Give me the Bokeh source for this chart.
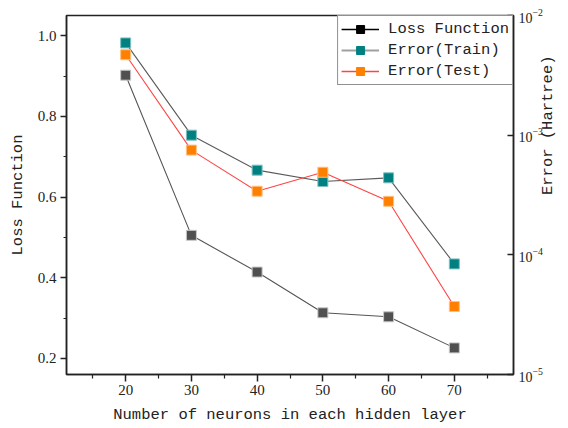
import math
from bokeh.plotting import figure
from bokeh.models import (LinearAxis, LogAxis, Range1d, LogScale, FixedTicker,
                          LogTickFormatter, PrintfTickFormatter, Legend, LegendItem,
                          ColumnDataSource)
from bokeh.embed import file_html
from bokeh.resources import INLINE

# ---- data ----
neurons = [20, 30, 40, 50, 60, 70]
loss = [0.902, 0.505, 0.414, 0.313, 0.303, 0.226]
err_train = [5.9e-3, 1.0e-3, 5.1e-4, 4.1e-4, 4.4e-4, 8.4e-5]
err_test = [4.7e-3, 7.5e-4, 3.4e-4, 4.9e-4, 2.8e-4, 3.7e-5]
x_ticks = [20, 30, 40, 50, 60, 70]
x_minor = [15, 25, 35, 45, 55, 65, 75]
y_ticks = [0.2, 0.4, 0.6, 0.8, 1.0]
y_minor = [0.3, 0.5, 0.7, 0.9]
err_ticks = [1e-5, 1e-4, 1e-3, 1e-2]
x_lo, x_hi = 11, 79
err_lo, err_hi = 1e-5, 1e-2

MONO = "Liberation Mono"
SERIF = "Liberation Serif"

p = figure(width=568, height=428, x_range=Range1d(x_lo, x_hi), y_range=Range1d(0.16, 1.05),
           output_backend="svg", toolbar_location=None,
           min_border_left=66, min_border_right=55, min_border_top=15, min_border_bottom=54,
           x_axis_location=None, y_axis_location=None)
p.grid.visible = False
p.outline_line_color = "#222222"
p.outline_line_width = 1.5
p.background_fill_color = "white"
p.border_fill_color = "white"

p.extra_y_ranges = {"err": Range1d(err_lo, err_hi), "lab": Range1d(0, 1)}
p.extra_y_scales = {"err": LogScale()}

# axes
xa = LinearAxis(ticker=FixedTicker(ticks=x_ticks, minor_ticks=x_minor),
                axis_label="Number of neurons in each hidden layer")
ya = LinearAxis(ticker=FixedTicker(ticks=y_ticks, minor_ticks=y_minor),
                formatter=PrintfTickFormatter(format="%.1f"),
                axis_label="Loss Function")
ra = LogAxis(y_range_name="err", ticker=FixedTicker(ticks=err_ticks),
             formatter=LogTickFormatter())

for ax in (xa, ya, ra):
    ax.axis_line_width = 1.5
    ax.axis_line_color = "#222222"
    ax.major_tick_line_color = "#222222"
    ax.minor_tick_line_color = "#222222"
    ax.major_tick_line_width = 1.5
    ax.minor_tick_line_width = 1.2
    ax.major_label_text_font = SERIF
    ax.major_label_text_font_size = "15px"
    ax.major_label_text_color = "#222222"
    ax.axis_label_text_font = MONO
    ax.axis_label_text_font_size = "15.5px"
    ax.axis_label_text_font_style = "normal"
    ax.axis_label_text_color = "#222222"

xa.major_tick_out = 7
xa.major_tick_in = 0
xa.minor_tick_out = 4
xa.minor_tick_in = 0
xa.major_label_standoff = 3
xa.axis_label_standoff = 8

ya.major_tick_out = 6
ya.major_tick_in = 0
ya.minor_tick_out = 3
ya.minor_tick_in = 0
ya.major_label_standoff = 4
ya.axis_label_standoff = 8

ra.major_tick_out = 0
ra.major_tick_in = 6
ra.minor_tick_out = 0
ra.minor_tick_in = 0
ra.major_label_standoff = 5
ra.major_label_text_font_size = "14px"

# title-only axis for the right-hand side (reads bottom-to-top)
ta = LinearAxis(y_range_name="lab", ticker=FixedTicker(ticks=[]), bounds=(0.0, 0.61),
                axis_label="Error (Hartree)")
ta.axis_line_color = None
ta.major_tick_line_color = None
ta.minor_tick_line_color = None
ta.major_tick_in = 0
ta.major_tick_out = 0
ta.minor_tick_in = 0
ta.minor_tick_out = 0
ta.major_label_text_font_size = "0px"
ta.major_label_standoff = 0
ta.axis_label_standoff = 2
ta.axis_label_text_font = MONO
ta.axis_label_text_font_size = "15.5px"
ta.axis_label_text_font_style = "normal"
ta.axis_label_text_color = "#222222"
ta.axis_label_orientation = math.pi / 2

p.add_layout(xa, "below")
p.add_layout(ya, "left")
p.add_layout(ra, "right")
p.add_layout(ta, "right")

# data renderers
src = ColumnDataSource(dict(x=neurons, loss=loss, tr=err_train, te=err_test))

p.line("x", "loss", source=src, line_color="#555555", line_width=1.1)
p.line("x", "tr", source=src, y_range_name="err", line_color="#5a5a5a", line_width=1.1)
p.line("x", "te", source=src, y_range_name="err", line_color="#ff4444", line_width=1.1)

p.scatter("x", "loss", source=src, marker="square", size=10, fill_color="#505050",
          line_color="#c8c8c8", line_width=1)
p.scatter("x", "tr", source=src, y_range_name="err", marker="square", size=10,
          fill_color="#008080", line_color="#7fc0c0", line_width=1)
p.scatter("x", "te", source=src, y_range_name="err", marker="square", size=10,
          fill_color="#ff8000", line_color="#ffc080", line_width=1)

# legend proxies
nan = float("nan")
proxy = ColumnDataSource(dict(x=[nan], y=[nan]))
l1 = p.line("x", "y", source=proxy, line_color="black", line_width=1.3)
s1 = p.scatter("x", "y", source=proxy, marker="square", size=9, fill_color="black", line_color="black")
l2 = p.line("x", "y", source=proxy, line_color="#a0a0a0", line_width=2)
s2 = p.scatter("x", "y", source=proxy, marker="square", size=9, fill_color="#008080", line_color="#008080")
l3 = p.line("x", "y", source=proxy, line_color="#ff4444", line_width=1.3)
s3 = p.scatter("x", "y", source=proxy, marker="square", size=9, fill_color="#ff8000", line_color="#ff8000")

legend = Legend(items=[
    LegendItem(label="Loss Function", renderers=[l1, s1]),
    LegendItem(label="Error(Train)", renderers=[l2, s2]),
    LegendItem(label="Error(Test)", renderers=[l3, s3]),
], location="top_right")
legend.margin = 0
legend.padding = 3
legend.spacing = 1
legend.glyph_width = 38
legend.glyph_height = 20
legend.label_height = 20
legend.label_standoff = 9
legend.label_text_font = MONO
legend.label_text_font_size = "15.5px"
legend.label_text_color = "#222222"
legend.border_line_color = "#222222"
legend.border_line_width = 1.2
legend.background_fill_color = "white"
legend.background_fill_alpha = 1.0
p.add_layout(legend)

open("out.html", "w").write(file_html(p, INLINE))
